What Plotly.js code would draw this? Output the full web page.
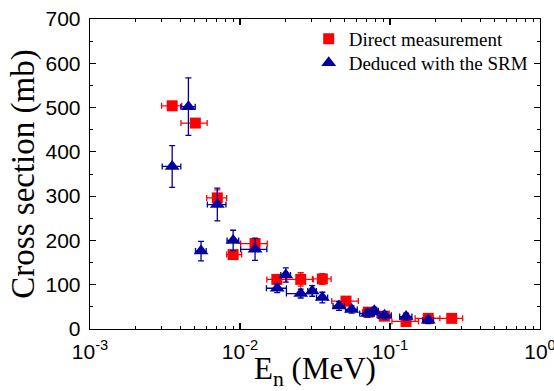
<!DOCTYPE html>
<html>
<head>
<meta charset="utf-8">
<script src="https://cdn.plot.ly/plotly-3.0.1.min.js"></script>
<style>html,body{margin:0;padding:0;background:#fff;}#chart{width:554px;height:391px;}</style>
</head>
<body>
<div id="chart"></div>
<script>
// Direct measurement
const directE = [0.00353, 0.00504, 0.00706, 0.0090, 0.0126, 0.0176, 0.0254, 0.0354, 0.0509, 0.0717, 0.0917, 0.128, 0.180, 0.258];
const directXS = [504, 465, 296, 168, 193, 112, 112, 113, 63, 38, 29, 17, 24, 24];
const directEerrMinus = [0.00053, 0.0010, 0.00106, 0.00085, 0.0025, 0.0025, 0.005, 0.005, 0.010, 0.006, 0.008, 0.025, 0.033, 0.073];
const directEerrPlus = [0.00056, 0.0010, 0.00109, 0.00126, 0.0026, 0.0029, 0.0054, 0.0051, 0.0106, 0.006, 0.008, 0.027, 0.035, 0.047];
const directXSerr = [8, 8, 18, 8, 10, 8, 15, 12, 6, 5, 5, 5, 5, 5];

// Deduced with the SRM
const srmE = [0.00353, 0.00453, 0.0055, 0.00706, 0.0090, 0.0126, 0.0177, 0.0202, 0.0254, 0.0303, 0.0354, 0.0457, 0.0555, 0.0708, 0.0786, 0.092, 0.128, 0.180];
const srmXS = [367, 502, 176, 281, 200, 180, 92, 122, 80, 86, 71, 52, 44, 35, 41, 31, 28, 20];
const srmXSerr = [47, 65, 22, 37, 23, 25, 10, 16, 10, 12, 12, 10, 8, 8, 8, 8, 8, 8];
const srmEerr = [0.0005, 0.0005, 0.00045, 0.001, 0.0008, 0.0025, 0.0027, 0.0015, 0.005, 0.002, 0.003, 0.004, 0.005, 0.008, 0.005, 0.01, 0.012, 0.015];

// Axis tick labels
const xTickVals = [0.001, 0.01, 0.1, 1];
const xTickText = ['10<sup>-3</sup>', '10<sup>-2</sup>', '10<sup>-1</sup>', '10<sup>0</sup>'];
const xMinorVals = [];
[0.001, 0.01, 0.1].forEach(d => { for (let k = 2; k <= 9; k++) xMinorVals.push(d * k); });

const RED = '#ff0000';
const BLUE = '#0000a0';
const SERIF = "'Liberation Serif', 'Times New Roman', serif";
const SANS = "'Liberation Sans', Arial, sans-serif";

const traces = [
  {
    type: 'scatter', mode: 'markers', name: 'Direct measurement', legend: 'legend',
    x: directE, y: directXS,
    marker: {symbol: 'square', size: 11, color: RED},
    error_x: {type: 'data', symmetric: false, array: directEerrPlus, arrayminus: directEerrMinus, color: RED, thickness: 1.3, width: 3},
    error_y: {type: 'data', array: directXSerr, color: RED, thickness: 1.3, width: 3}
  },
  {
    type: 'scatter', mode: 'markers', name: 'Deduced with the SRM', legend: 'legend2',
    x: srmE, y: srmXS,
    marker: {symbol: 'triangle-up', size: 13, color: BLUE},
    error_x: {type: 'data', array: srmEerr, color: BLUE, thickness: 1.3, width: 3},
    error_y: {type: 'data', array: srmXSerr, color: BLUE, thickness: 1.3, width: 3}
  }
];

const axisCommon = {
  showline: true, linecolor: '#000', linewidth: 1.3, mirror: 'ticks',
  ticks: 'inside', ticklen: 6, tickwidth: 1.2, tickcolor: '#000',
  showgrid: false, zeroline: false,
  tickfont: {family: SANS, size: 21, color: '#000'}
};

const legendCommon = {
  xanchor: 'left', yanchor: 'middle',
  bgcolor: 'rgba(0,0,0,0)', borderwidth: 0,
  font: {family: SERIF, size: 19, color: '#000'},
  itemwidth: 30
};

const layout = {
  width: 554, height: 391,
  margin: {l: 90, r: 14, t: 19, b: 62},
  paper_bgcolor: '#fff', plot_bgcolor: '#fff',
  showlegend: true,
  legend: Object.assign({}, legendCommon, {x: 0.486, y: 0.936}),
  legend2: Object.assign({}, legendCommon, {x: 0.486, y: 0.858}),
  xaxis: Object.assign({}, axisCommon, {
    type: 'log', range: [-3, 0],
    tickmode: 'array', tickvals: xTickVals, ticktext: xTickText,
    ticklabelstandoff: 3, ticklabeloverflow: 'allow',
    minor: {tickmode: 'array', tickvals: xMinorVals, ticks: 'inside', ticklen: 3, tickwidth: 1, tickcolor: '#000'},
    title: {text: 'E<sub>n</sub> (MeV)', standoff: 2, font: {family: SERIF, size: 31, color: '#000'}}
  }),
  yaxis: Object.assign({}, axisCommon, {
    range: [0, 700], tickmode: 'linear', tick0: 0, dtick: 100,
    ticklabelstandoff: 4,
    minor: {dtick: 50, ticks: 'inside', ticklen: 3, tickwidth: 1, tickcolor: '#000'},
    title: {text: 'Cross section (mb)', standoff: 1, font: {family: SERIF, size: 33, color: '#000'}}
  })
};

Plotly.newPlot('chart', traces, layout, {displayModeBar: false, staticPlot: true});
</script>
</body>
</html>
